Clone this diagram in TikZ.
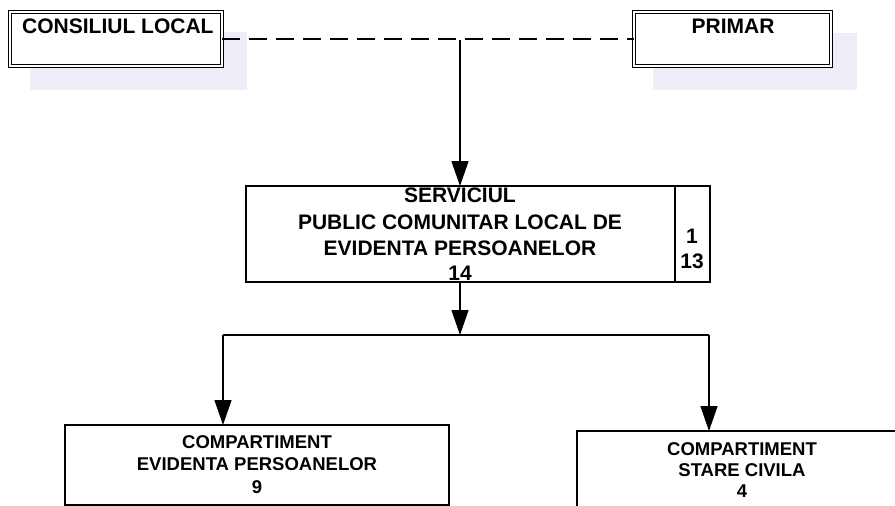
\documentclass[tikz,border=0pt]{standalone}
\usepackage{fontspec}
\setmainfont{Liberation Sans}
\usetikzlibrary{arrows.meta}
\definecolor{shadowcol}{RGB}{238,238,248}
\tikzset{
  dblbox/.style={draw=black, line width=1pt, double=white, double distance=2pt, fill=white, inner sep=0pt, outer sep=0pt},
  plainbox/.style={draw=black, line width=1.4pt, fill=white, inner sep=0pt, outer sep=0pt},
  bigtxt/.style={inner sep=0pt, font=\fontsize{21}{25}\selectfont\bfseries},
  smalltxt/.style={inner sep=0pt, font=\fontsize{18.5}{22}\selectfont\bfseries},
  conn/.style={line width=1.3pt, draw=black},
  arr/.style={conn, -{Triangle[width=17pt,length=25pt]}},
  dashconn/.style={conn, dash pattern=on 18pt off 9pt}
}
\begin{document}
\begin{tikzpicture}[x=1pt,y=-1pt]
\useasboundingbox (0,0) rectangle (895,506);
\clip (0,0) rectangle (895,506);
\fill[white] (0,0) rectangle (895,506);
% faint shadows
\fill[shadowcol] (30,32) rectangle (247,90);
\fill[shadowcol] (653,33) rectangle (857,90);
% top boxes
\node[dblbox, minimum width=212pt, minimum height=54pt] (cl) at (116,39) {};
\node[dblbox, minimum width=197pt, minimum height=54pt] (pr) at (732.5,39) {};
\node[bigtxt, anchor=base west] (clt) at (22,33) {CONSILIUL LOCAL};
\node[bigtxt, anchor=base] (prt) at (733,33) {PRIMAR};
% middle box
\node[plainbox, minimum width=464pt, minimum height=96pt] (sv) at (478,234) {};
\coordinate (dv) at (675,234);
\draw[line width=1.4pt] (dv |- sv.north) -- (dv |- sv.south);
\node[bigtxt, anchor=base] (s1) at (460,202) {SERVICIUL};
\node[bigtxt, anchor=base] (s2) at (460,229) {PUBLIC COMUNITAR LOCAL DE};
\node[bigtxt, anchor=base] (s3) at (460,255) {EVIDENTA PERSOANELOR};
\node[bigtxt, anchor=base] (s4) at (460,280) {14};
\node[bigtxt, anchor=base] (n1) at (692,243) {1};
\node[bigtxt, anchor=base] (n2) at (692,268) {13};
% bottom boxes
\node[plainbox, minimum width=384pt, minimum height=80pt] (ep) at (257,465) {};
\node[smalltxt, anchor=base] (e1) at (257,448) {COMPARTIMENT};
\node[smalltxt, anchor=base] (e2) at (257,470) {EVIDENTA PERSOANELOR};
\node[smalltxt, anchor=base] (e3) at (257,493) {9};
\node[plainbox, minimum width=340pt, minimum height=88pt] (sc) at (747,475) {};
\node[smalltxt, anchor=base] (c1) at (742,455) {COMPARTIMENT};
\node[smalltxt, anchor=base] (c2) at (742,476) {STARE CIVILA};
\node[smalltxt, anchor=base] (c3) at (742,497) {4};
% connectors
\coordinate (j) at (460,40);
\coordinate (hm) at (460,335);
\coordinate (hl) at (223,335);
\coordinate (hr) at (709,335);
\draw[dashconn] (cl.east) -- (pr.west);
\draw[arr] (j) -- (j |- sv.north);
\draw[arr] (j |- sv.south) -- (hm);
\draw[conn] (hl) -- (hr);
\draw[arr] (hl) -- (hl |- ep.north);
\draw[arr] (hr) -- (hr |- sc.north);
\end{tikzpicture}
\end{document}
